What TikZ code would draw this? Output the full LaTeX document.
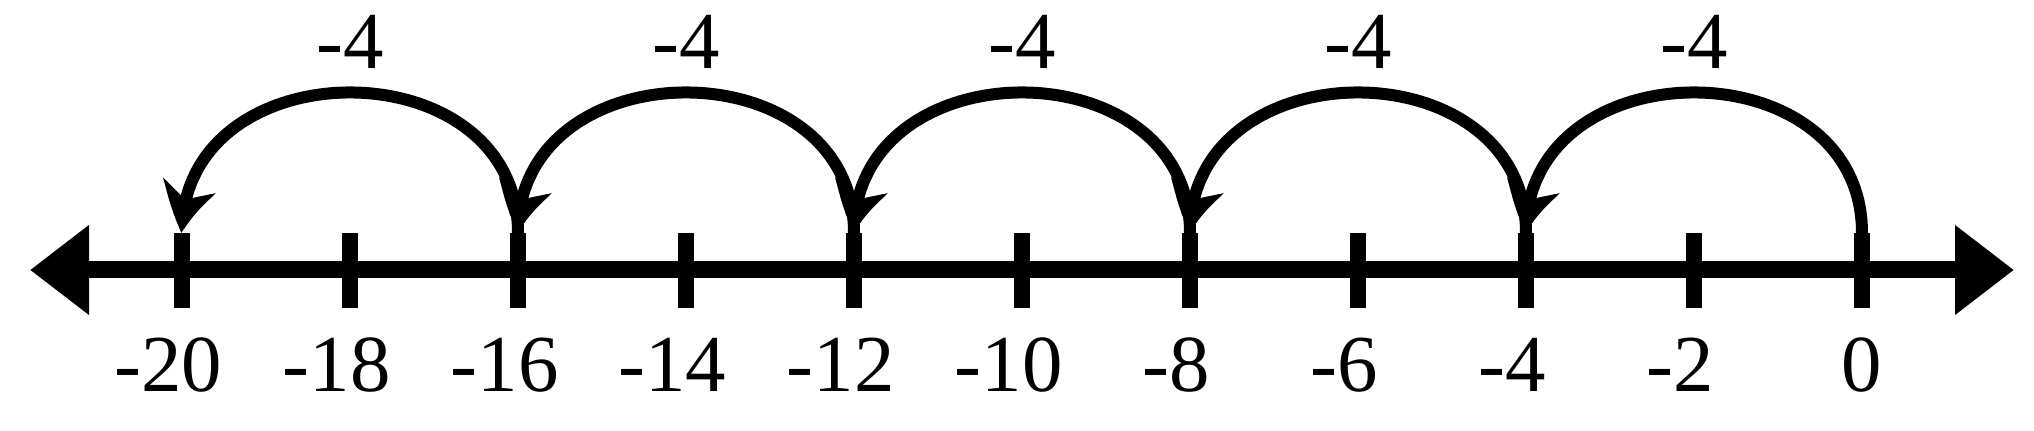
\documentclass[tikz,border=0pt]{standalone}
\usepackage{fontspec}
\setmainfont{Liberation Serif}
\usetikzlibrary{arrows.meta,bending,calc}
\begin{document}
\begin{tikzpicture}[
  axisline/.style={line width=1.7mm,{Triangle[length=5.9mm,width=8.6mm]}-{Triangle[length=5.9mm,width=8.6mm]}},
  tickmark/.style={line width=1.6mm},
  hop/.style={line width=1.2mm,-{Stealth[length=4.9mm,width=5.3mm,inset=1.5mm,bend]},out=90,in=90,looseness=1.43},
  numlabel/.style={anchor=base,inner sep=0pt,font=\fontsize{23}{28}\selectfont}]
\useasboundingbox (0,0) rectangle (20.34,4.31);
\coordinate (axisL) at (0.30,1.61);
\coordinate (axisR) at (20.14,1.61);
\draw[axisline] (axisL) -- (axisR);
\foreach \i in {0,...,10}{
  \coordinate (t\i) at ({1.82+1.68*\i},1.61);
  \coordinate (top\i) at ({1.82+1.68*\i},1.98);
  \draw[tickmark] ($(t\i)+(0,-0.38)$) -- (top\i);
  \pgfmathtruncatemacro{\val}{20-2*\i}
  \node[numlabel] (num\i) at ({1.82+1.68*\i},0.39) {\ifnum\val>0\llap{-}\fi\val};
}
\foreach \j in {0,...,4}{
  \pgfmathtruncatemacro{\a}{2*\j}
  \pgfmathtruncatemacro{\b}{2*\j+2}
  \pgfmathtruncatemacro{\m}{2*\j+1}
  \draw[hop] (top\b) to (top\a);
  \node[numlabel] (hoplabel\j) at ({1.82+1.68*\m},3.62) {-4};
}
\end{tikzpicture}
\end{document}
